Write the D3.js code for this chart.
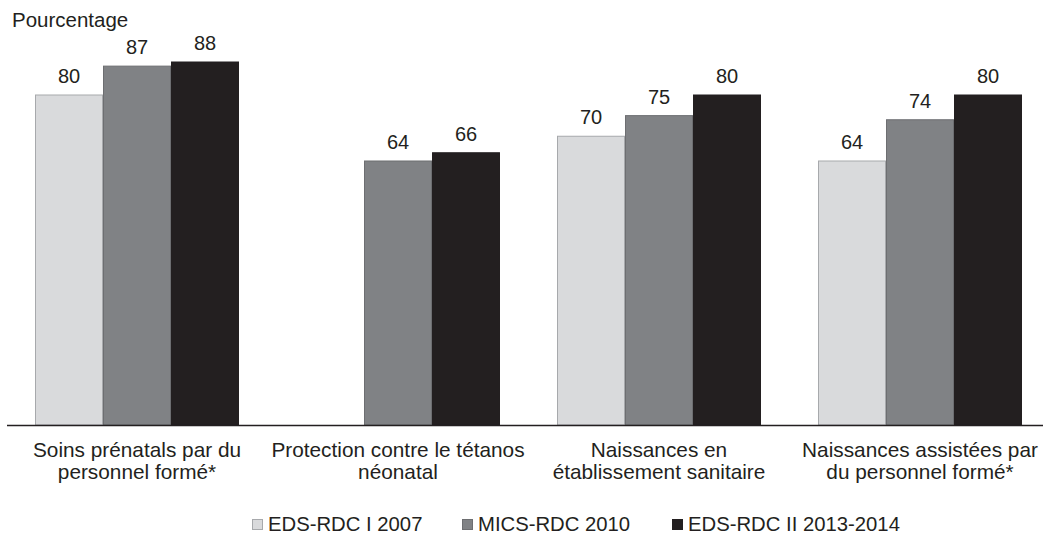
<!DOCTYPE html>
<html>
<head>
<meta charset="utf-8">
<script src="https://cdn.jsdelivr.net/npm/d3@7/dist/d3.min.js"></script>
<style>
  html, body { margin: 0; padding: 0; background: #fff; }
  svg { display: block; font-family: Arial, "Liberation Sans", sans-serif; }
</style>
</head>
<body>
<svg id="chart" width="1043" height="535"></svg>
<script>
const categories = [
  ["Soins prénatals par du", "personnel formé*"],
  ["Protection contre le tétanos", "néonatal"],
  ["Naissances en", "établissement sanitaire"],
  ["Naissances assistées par", "du personnel formé*"]
];
const seriesNames = ["EDS-RDC I 2007", "MICS-RDC 2010", "EDS-RDC II 2013-2014"];
const edsI2007 = [80, null, 70, 64];
const mics2010 = [87, 64, 75, 74];
const edsII2013 = [88, 66, 80, 80];
const seriesValues = [edsI2007, mics2010, edsII2013];
const colors = ["#d9dadc", "#808285", "#231f20"];
const strokes = ["#a7a9ac", "#6d6e71", "#231f20"];

const svg = d3.select("#chart");
const catKeys = categories.map((c, i) => i);

const x0 = d3.scaleBand().domain(catKeys).range([6.5, 1050.5]).padding(0);
const x1 = d3.scaleBand().domain(d3.range(seriesNames.length)).range([28.5, 232.5]).padding(0);
const y = d3.scaleLinear().domain([0, 100]).range([425, 12.5]);

// bars
const groups = svg.append("g").selectAll("g")
  .data(catKeys).join("g")
  .attr("transform", d => `translate(${x0(d)},0)`);

groups.each(function(ci) {
  const g = d3.select(this);
  seriesValues.forEach((vals, si) => {
    const v = vals[ci];
    if (v == null) return;
    g.append("rect")
      .attr("x", x1(si) + 0.5)
      .attr("y", y(v))
      .attr("width", x1.bandwidth() - 1)
      .attr("height", y(0) - y(v))
      .attr("fill", colors[si])
      .attr("stroke", strokes[si])
      .attr("stroke-width", 1);
    g.append("text")
      .attr("x", x1(si) + x1.bandwidth() / 2)
      .attr("y", y(v) - 12)
      .attr("text-anchor", "middle")
      .attr("font-size", 20)
      .attr("fill", "#231f20")
      .text(v);
  });
});

// axis baseline
svg.append("line")
  .attr("x1", 7).attr("x2", 1043)
  .attr("y1", y(0) + 0.5).attr("y2", y(0) + 0.5)
  .attr("stroke", "#231f20").attr("stroke-width", 1.5);

// category labels
const lab = svg.append("g").selectAll("text")
  .data(catKeys).join("text")
  .attr("text-anchor", "middle")
  .attr("font-size", 20.8)
  .attr("fill", "#231f20");
lab.each(function(ci) {
  const t = d3.select(this);
  const cx = x0(ci) + x0.bandwidth() / 2;
  categories[ci].forEach((line, li) => {
    t.append("tspan").attr("x", cx).attr("y", 457 + li * 22).text(line);
  });
});

// y title
svg.append("text")
  .attr("x", 12).attr("y", 27)
  .attr("font-size", 20.5)
  .attr("fill", "#231f20")
  .text("Pourcentage");

// legend
const legendX = [252, 462, 672];
const leg = svg.append("g").selectAll("g")
  .data(seriesNames).join("g")
  .attr("transform", (d, i) => `translate(${legendX[i]},0)`);
leg.append("rect")
  .attr("x", 0.5).attr("y", 519.5)
  .attr("width", 10).attr("height", 10)
  .attr("fill", (d, i) => colors[i])
  .attr("stroke", (d, i) => strokes[i]);
leg.append("text")
  .attr("x", 16).attr("y", 531)
  .attr("font-size", 20.3)
  .attr("fill", "#231f20")
  .text(d => d);
</script>
</body>
</html>
